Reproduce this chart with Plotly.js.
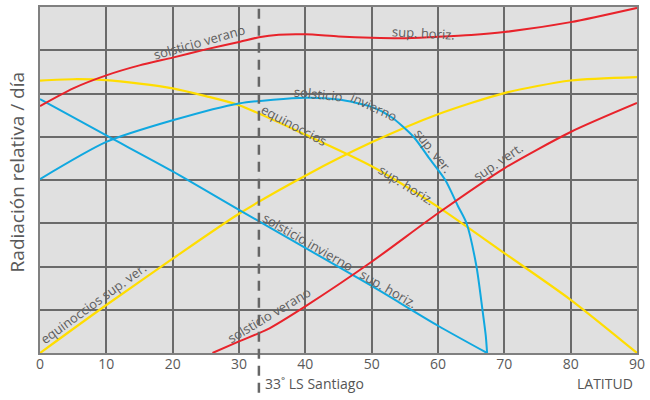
<!DOCTYPE html>
<html>
<head>
<meta charset="utf-8">
<script src="https://cdn.plot.ly/plotly-3.0.1.min.js"></script>
<style>html,body{margin:0;padding:0;background:#fff;}#chart{width:650px;height:400px;}</style>
</head>
<body>
<div id="chart"></div>
<script>
// Solsticio verano, superficie horizontal (red, top)
const verHorizX = [0, 5, 10, 15, 20, 25, 30, 33, 36, 40, 45, 50, 55, 60, 65, 70, 80, 90];
const verHorizY = [5.71, 6.12, 6.42, 6.65, 6.83, 7.02, 7.19, 7.30, 7.36, 7.37, 7.32, 7.29, 7.28, 7.31, 7.35, 7.42, 7.65, 7.98];
// Solsticio verano, superficie vertical (red, bottom)
const verVertX = [26, 30, 34.2, 40, 50, 60, 70, 80, 90];
const verVertY = [0, 0.27, 0.54, 1.08, 2.11, 3.23, 4.27, 5.11, 5.78];
// Equinoccios, superficie horizontal (yellow, descending)
const eqHorizX = [0, 5, 10, 15, 20, 25, 30, 40, 50, 60, 70, 80, 90];
const eqHorizY = [6.30, 6.33, 6.31, 6.23, 6.12, 5.94, 5.73, 5.05, 4.32, 3.38, 2.31, 1.23, 0];
// Equinoccios, superficie vertical (yellow, ascending)
const eqVertX = [0, 10, 20, 30, 40, 50, 60, 70, 80, 90];
const eqVertY = [0, 1.11, 2.18, 3.22, 4.10, 4.87, 5.52, 6.01, 6.30, 6.38];
// Solsticio invierno, superficie horizontal (blue, straight descending)
const invHorizX = [0, 10, 20, 30, 40, 50, 60, 67.4];
const invHorizY = [5.87, 5.03, 4.20, 3.31, 2.43, 1.55, 0.63, 0];
// Solsticio invierno, superficie vertical (blue, arc)
const invVertX = [0, 10, 20, 30, 40, 45, 50, 53, 56.3, 58.7, 61.1, 63, 64.3, 65.8, 66.7, 67.2, 67.4];
const invVertY = [4.02, 4.88, 5.38, 5.77, 5.90, 5.86, 5.69, 5.45, 5.0, 4.5, 4.0, 3.4, 3.0, 2.0, 1.0, 0.4, 0];

const xTicks = [0, 10, 20, 30, 40, 50, 60, 70, 80, 90];
const santiagoLat = 33;

const RED = '#e8232b', YEL = '#ffdd00', BLUE = '#10a8e0';
function line(x, y, c, w) {
  return {x: x, y: y, type: 'scatter', mode: 'lines', line: {color: c, width: w, shape: 'spline', smoothing: 0.7}, hoverinfo: 'skip'};
}
const data = [
  line(eqHorizX, eqHorizY, YEL, 2.2),
  line(eqVertX, eqVertY, YEL, 2.2),
  line(invHorizX, invHorizY, BLUE, 2),
  line(invVertX, invVertY, BLUE, 2),
  line(verHorizX, verHorizY, RED, 2),
  line(verVertX, verVertY, RED, 2)
];

const lblFont = {family: 'Open Sans, sans-serif', size: 13, color: '#5e5e5e'};
function lbl(t, x, y, a) {
  return {text: t, x: x, y: y, xref: 'x', yref: 'y', showarrow: false, textangle: a, font: lblFont};
}
const annotations = [
  lbl('solsticio verano', 24.0, 7.20, -16),
  lbl('sup. horiz.', 57.8, 7.40, 3),
  lbl('solsticio', 42.0, 6.00, 6),
  lbl('invierno', 50.4, 5.68, 25),
  lbl('sup. ver.', 59.35, 4.68, 52),
  lbl('equinoccios', 38.3, 5.27, 28),
  lbl('sup. horiz.', 55.25, 3.88, 32),
  lbl('sup. vert.', 69.0, 4.42, -34),
  lbl('solsticio invierno', 40.4, 2.56, 30),
  lbl('sup. horiz.', 52.6, 1.48, 30),
  lbl('solsticio verano', 34.5, 0.88, -31),
  lbl('equinoccios sup. ver.', 8.1, 1.15, -36),
  {text: 'Radiación relativa / día', x: (17 - 40) / 597, xref: 'paper', xanchor: 'center', y: 0.522, yref: 'paper', yanchor: 'middle',
   textangle: -90, showarrow: false, font: {family: 'Open Sans, sans-serif', size: 19, color: '#5a5a5a'}},
  {text: '33˚ LS Santiago', x: santiagoLat, xref: 'x', xanchor: 'left', xshift: 4, y: -0.056, yref: 'paper', yanchor: 'top', showarrow: false,
   font: {family: 'Open Sans, sans-serif', size: 14, color: '#555'}},
  {text: 'LATITUD', x: 1, xref: 'paper', xanchor: 'right', xshift: -2, y: -0.056, yref: 'paper', yanchor: 'top', showarrow: false,
   font: {family: 'Open Sans, sans-serif', size: 14, color: '#555'}}
];

const layout = {
  width: 650, height: 400,
  margin: {l: 40, r: 13, t: 7, b: 47},
  paper_bgcolor: '#ffffff',
  plot_bgcolor: '#e0e0e0',
  showlegend: false,
  xaxis: {range: [0, 90], tickvals: xTicks, ticktext: xTicks.map(String), showgrid: true, gridcolor: '#6a6a6a', gridwidth: 2,
          zeroline: false, showline: true, linecolor: '#808080', linewidth: 2, mirror: true, ticks: '', ticklabelstandoff: -3,
          tickfont: {family: 'Open Sans, sans-serif', size: 14, color: '#5a5a5a'}, fixedrange: true},
  yaxis: {range: [0, 8], dtick: 1, showgrid: true, gridcolor: '#6a6a6a', gridwidth: 2, showticklabels: false,
          zeroline: false, showline: true, linecolor: '#808080', linewidth: 2, mirror: true, ticks: '', fixedrange: true},
  shapes: [
    {type: 'line', xref: 'x', yref: 'paper', x0: santiagoLat, x1: santiagoLat, y0: -0.115, y1: 1,
     line: {color: '#666', width: 2.5, dash: '10px,7px'}, layer: 'above'}
  ],
  annotations: annotations
};

Plotly.newPlot('chart', data, layout, {staticPlot: true, displayModeBar: false});
</script>
</body>
</html>
